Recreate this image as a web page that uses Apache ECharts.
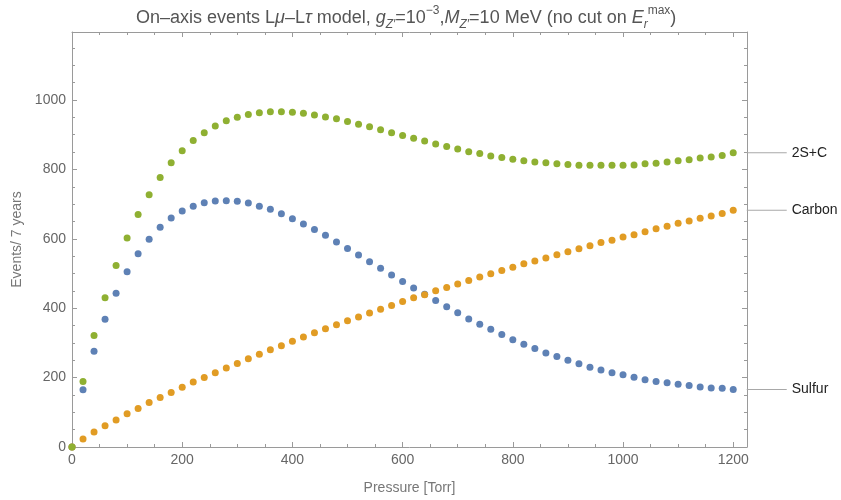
<!DOCTYPE html>
<html>
<head>
<meta charset="utf-8">
<script src="https://cdn.jsdelivr.net/npm/echarts@6/dist/echarts.min.js"></script>
<style>
  html, body { margin: 0; padding: 0; background: #fff; }
  #chart { width: 841px; height: 500px; }
</style>
</head>
<body>
<div id="chart"></div>
<script>
// Pressure values (Torr)
const pressure = [0, 20, 40, 60, 80, 100, 120, 140, 160, 180, 200, 220, 240, 260, 280, 300,
  320, 340, 360, 380, 400, 420, 440, 460, 480, 500, 520, 540, 560, 580, 600, 620, 640, 660,
  680, 700, 720, 740, 760, 780, 800, 820, 840, 860, 880, 900, 920, 940, 960, 980, 1000,
  1020, 1040, 1060, 1080, 1100, 1120, 1140, 1160, 1180, 1200];

// Events / 7 years
const sulfur = [0, 165, 276, 368, 443, 505, 557, 599, 633, 660, 680, 694, 704, 709, 710, 708,
  703, 694, 685, 672, 658, 643, 627, 610, 591, 572, 553, 534, 515, 496, 477, 458, 440, 422,
  404, 387, 369, 354, 339, 324, 309, 296, 284, 271, 261, 250, 240, 230, 222, 214, 208,
  201, 194, 189, 185, 181, 177, 173, 170, 169, 166];
const carbon = [0, 23, 43, 61, 78, 96, 111, 128, 143, 157, 172, 187, 200, 214, 228, 241,
  254, 267, 280, 292, 305, 317, 329, 341, 352, 364, 375, 386, 397, 408, 419, 430, 439, 450,
  460, 470, 480, 490, 499, 509, 518, 528, 536, 545, 554, 563, 571, 580, 589, 596, 605,
  612, 620, 629, 636, 645, 651, 659, 666, 673, 682];
const twoSC = [0, 189, 321, 430, 523, 602, 670, 727, 777, 819, 854, 883, 906, 925, 940, 950,
  958, 963, 966, 966, 965, 962, 957, 951, 946, 938, 930, 923, 914, 906, 898, 890, 882, 873,
  866, 859, 851, 846, 839, 834, 829, 825, 821, 819, 816, 814, 812, 812, 812, 812, 812,
  813, 816, 818, 821, 825, 828, 833, 836, 840, 848];

const seriesNames = ['Sulfur', 'Carbon', '2S+C'];
const seriesValues = [sulfur, carbon, twoSC];
const seriesColors = ['#5E81B5', '#E19C24', '#8FB032'];

const xMajor = [0, 200, 400, 600, 800, 1000, 1200];
const xMinor = [50, 100, 150, 250, 300, 350, 450, 500, 550, 650, 700, 750, 850, 900, 950, 1050, 1100, 1150];
const yMajor = [0, 200, 400, 600, 800, 1000];
const yMinor = [50, 100, 150, 250, 300, 350, 450, 500, 550, 650, 700, 750, 850, 900, 950, 1050, 1100, 1150];

const X_MIN = 0, X_MAX = 1225, Y_MIN = 0, Y_MAX = 1196;
const frameColor = '#9a9a9a';
const labelColor = '#666';
const fontFamily = '"Liberation Sans", Arial, sans-serif';

function frameAxis(kind, position, ticks, len, withLine, withLabels, extra) {
  const isX = kind === 'x';
  return Object.assign({
    type: 'value',
    position: position,
    min: isX ? X_MIN : Y_MIN,
    max: isX ? X_MAX : Y_MAX,
    axisLine: { show: withLine, onZero: false, lineStyle: { color: frameColor, width: 1 } },
    axisTick: { show: true, inside: true, length: len, customValues: ticks,
      lineStyle: { color: frameColor, width: 1 } },
    axisLabel: withLabels
      ? { show: true, customValues: ticks, color: labelColor, fontSize: 14, fontFamily: fontFamily,
          margin: 6, formatter: v => String(v) }
      : { show: false },
    splitLine: { show: false },
    minorTick: { show: false }
  }, extra || {});
}

const xAxes = [
  frameAxis('x', 'bottom', xMajor, 5, true, true, {
    name: 'Pressure [Torr]', nameLocation: 'middle', nameGap: 34,
    nameTextStyle: { color: '#777', fontSize: 14, fontFamily: fontFamily }
  }),
  frameAxis('x', 'bottom', xMinor, 3, false, false),
  frameAxis('x', 'top', xMajor, 5, true, false),
  frameAxis('x', 'top', xMinor, 3, false, false)
];
const yAxes = [
  frameAxis('y', 'left', yMajor, 5, true, true, {
    name: 'Events/ 7 years', nameLocation: 'middle', nameGap: 43, nameRotate: 90,
    nameTextStyle: { color: '#777', fontSize: 14, fontFamily: fontFamily }
  }),
  frameAxis('y', 'left', yMinor, 3, false, false),
  frameAxis('y', 'right', yMajor, 5, true, false),
  frameAxis('y', 'right', yMinor, 3, false, false)
];

const series = seriesNames.map((name, i) => ({
  name: name,
  type: 'scatter',
  xAxisIndex: 0,
  yAxisIndex: 0,
  clip: false,
  symbol: 'circle',
  symbolSize: 7,
  itemStyle: { color: seriesColors[i], opacity: 1 },
  z: 2 + i,
  data: pressure.map((p, k) => {
    const item = { value: [p, seriesValues[i][k]] };
    if (k === pressure.length - 1) {
      // Line-and-text callout just outside the right frame
      item.label = {
        show: true,
        position: 'right',
        distance: 10,
        formatter: '{ln|}{nm|' + name + '}',
        rich: {
          ln: { width: 40, height: 1, backgroundColor: '#a8a8a8' },
          nm: { color: '#222', fontSize: 14, fontFamily: fontFamily, padding: [0, 0, 0, 5] }
        }
      };
    }
    return item;
  })
}));

const titleBase = { color: '#555', fontSize: 18, fontFamily: fontFamily, fontWeight: 'normal', lineHeight: 26 };
const chart = echarts.init(document.getElementById('chart'), null, { renderer: 'canvas' });
chart.setOption({
  animation: false,
  backgroundColor: '#fff',
  title: {
    left: 136,
    top: 5,
    padding: 0,
    text: '{t|On\u2013axis events L}{i|\u03bc}{t|\u2013L}{i|\u03c4}{t| model, }{i|g}{sub|Z\u2032}{t|=10}{sup|\u22123}{t|,}{i|M}{sub|Z\u2032}{t|=10 MeV (no cut on }{i|E}{sub|r}{sup|max}{t|)}',
    textStyle: {
      fontWeight: 'normal',
      rich: {
        t: Object.assign({}, titleBase, { verticalAlign: 'middle' }),
        i: Object.assign({}, titleBase, { fontStyle: 'italic', verticalAlign: 'middle' }),
        sub: Object.assign({}, titleBase, { fontSize: 12, fontStyle: 'italic', verticalAlign: 'bottom' }),
        sup: Object.assign({}, titleBase, { fontSize: 12, verticalAlign: 'top' })
      }
    }
  },
  grid: { left: 72, right: 94, top: 32, bottom: 51, containLabel: false },
  xAxis: xAxes,
  yAxis: yAxes,
  series: series
});
</script>
</body>
</html>
